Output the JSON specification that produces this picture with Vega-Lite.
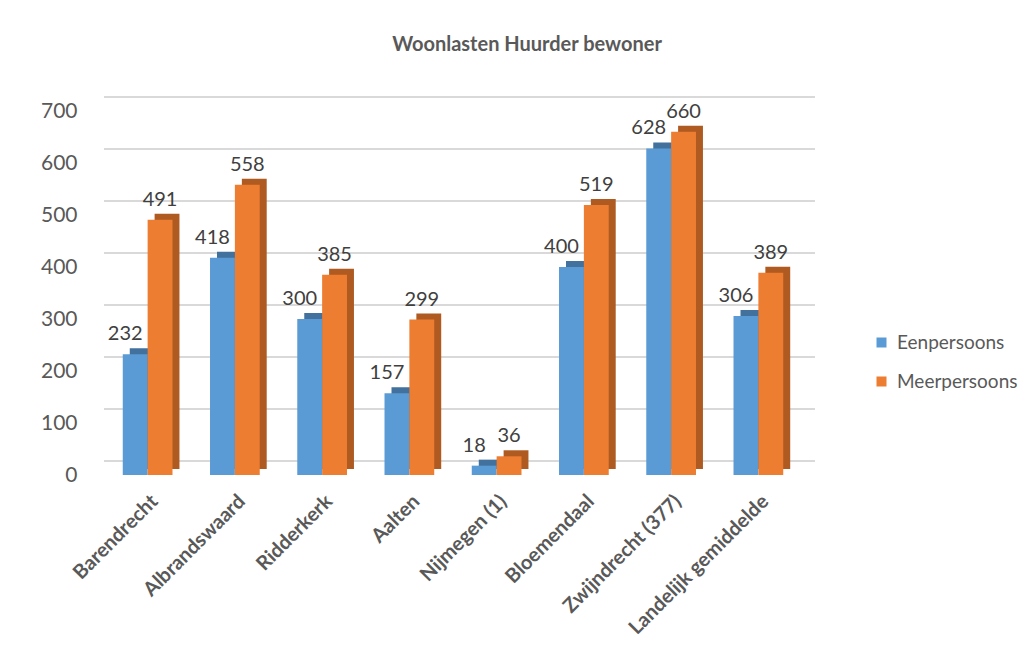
{
  "$schema": "https://vega.github.io/schema/vega-lite/v6.json",
  "width": 698,
  "height": 364,
  "autosize": {"type": "none"},
  "padding": {"left": 104, "top": 111, "right": 229, "bottom": 184},
  "background": "white",
  "config": {
    "font": "Lato",
    "view": {"stroke": null},
    "axisY": {
      "title": null,
      "grid": false,
      "domain": false,
      "ticks": false,
      "labelFontSize": 21,
      "labelColor": "#595959",
      "labelPadding": 27
    },
    "axisX": {
      "title": null,
      "labelAngle": -45,
      "labelFontWeight": "bold",
      "labelFontSize": 20,
      "labelColor": "#595959",
      "domain": false,
      "ticks": false,
      "labelPadding": 16,
      "labelLimit": 400
    }
  },
  "title": {
    "text": "Woonlasten Huurder bewoner",
    "fontSize": 20,
    "fontWeight": "bold",
    "color": "#595959",
    "anchor": "middle",
    "dx": 74,
    "offset": 41
  },
  "datasets": {
    "bars": [
      {"category": "Barendrecht", "series": "Eenpersoons", "value": 232},
      {"category": "Barendrecht", "series": "Meerpersoons", "value": 491},
      {"category": "Albrandswaard", "series": "Eenpersoons", "value": 418},
      {"category": "Albrandswaard", "series": "Meerpersoons", "value": 558},
      {"category": "Ridderkerk", "series": "Eenpersoons", "value": 300},
      {"category": "Ridderkerk", "series": "Meerpersoons", "value": 385},
      {"category": "Aalten", "series": "Eenpersoons", "value": 157},
      {"category": "Aalten", "series": "Meerpersoons", "value": 299},
      {"category": "Nijmegen (1)", "series": "Eenpersoons", "value": 18},
      {"category": "Nijmegen (1)", "series": "Meerpersoons", "value": 36},
      {"category": "Bloemendaal", "series": "Eenpersoons", "value": 400},
      {"category": "Bloemendaal", "series": "Meerpersoons", "value": 519},
      {"category": "Zwijndrecht (377)", "series": "Eenpersoons", "value": 628},
      {"category": "Zwijndrecht (377)", "series": "Meerpersoons", "value": 660},
      {"category": "Landelijk gemiddelde", "series": "Eenpersoons", "value": 306},
      {"category": "Landelijk gemiddelde", "series": "Meerpersoons", "value": 389}
    ],
    "grid": [
      {"tick": 0}, {"tick": 100}, {"tick": 200}, {"tick": 300},
      {"tick": 400}, {"tick": 500}, {"tick": 600}, {"tick": 700}
    ]
  },
  "resolve": {"scale": {"color": "independent", "xOffset": "independent"}},
  "layer": [
    {
      "data": {"name": "grid"},
      "mark": {"type": "rule", "color": "#d9d9d9", "strokeWidth": 2, "xOffset": 13, "yOffset": -14},
      "encoding": {
        "y": {"field": "tick", "type": "quantitative", "scale": {"domain": [0, 700], "nice": false}, "axis": {"values": [0, 100, 200, 300, 400, 500, 600, 700]}}
      }
    },
    {
      "data": {"name": "bars"},
      "mark": {"type": "bar", "yOffset": -6},
      "encoding": {
        "x": {"field": "category", "type": "nominal", "sort": null, "scale": {"paddingInner": 0.43, "paddingOuter": 0.215}},
        "xOffset": {"field": "series", "type": "nominal", "scale": {"range": [7, 56.7], "paddingInner": 0, "paddingOuter": 0}},
        "y": {"field": "value", "type": "quantitative", "scale": {"domain": [0, 700], "nice": false}, "axis": {"values": [0, 100, 200, 300, 400, 500, 600, 700]}},
        "color": {
          "field": "series",
          "type": "nominal",
          "scale": {"domain": ["Eenpersoons", "Meerpersoons"], "range": ["#41719c", "#ae5a21"]},
          "legend": null
        }
      }
    },
    {
      "data": {"name": "bars"},
      "encoding": {
        "x": {"field": "category", "type": "nominal", "sort": null},
        "xOffset": {"field": "series", "type": "nominal", "scale": {"paddingInner": 0, "paddingOuter": 0}},
        "y": {"field": "value", "type": "quantitative", "scale": {"domain": [0, 700], "nice": false}, "axis": {"values": [0, 100, 200, 300, 400, 500, 600, 700]}}
      },
      "layer": [
        {
          "mark": {"type": "bar"},
          "encoding": {
            "color": {
              "field": "series",
              "type": "nominal",
              "scale": {"domain": ["Eenpersoons", "Meerpersoons"], "range": ["#5b9bd5", "#ed7d31"]},
              "legend": {
                "title": null,
                "orient": "none",
                "legendX": 768,
                "legendY": 222,
                "symbolType": "square",
                "symbolSize": 100,
                "symbolStrokeWidth": 0,
                "labelFontSize": 19,
                "labelColor": "#595959",
                "rowPadding": 19,
                "labelOffset": 6
              }
            }
          }
        },
        {
          "transform": [{"filter": "datum.series === 'Eenpersoons'"}],
          "mark": {"type": "text", "baseline": "bottom", "dy": -10, "dx": -10, "fontSize": 20, "color": "#404040"},
          "encoding": {"text": {"field": "value", "type": "quantitative"}}
        },
        {
          "transform": [{"filter": "datum.series === 'Meerpersoons'"}],
          "mark": {"type": "text", "baseline": "bottom", "dy": -10, "fontSize": 20, "color": "#404040"},
          "encoding": {"text": {"field": "value", "type": "quantitative"}}
        }
      ]
    }
  ]
}
